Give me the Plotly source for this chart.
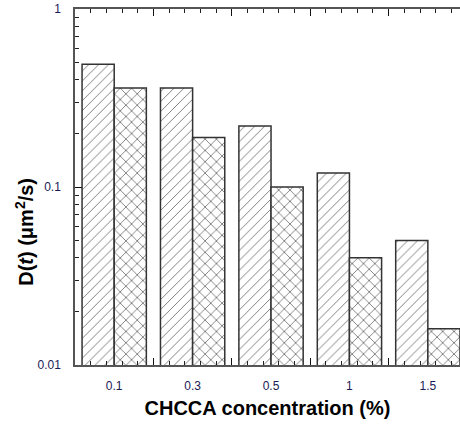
import plotly.graph_objects as go

categories = ["0.1", "0.3", "0.5", "1", "1.5"]
positions = [0.5, 1.5, 2.5, 3.5, 4.5]
series_a = [0.49, 0.36, 0.22, 0.12, 0.05]
series_b = [0.36, 0.19, 0.10, 0.04, 0.016]
y_tick_vals = [0.01, 0.1, 1]
y_tick_text = ["0.01", "0.1", "1"]

bw = 0.41
fig = go.Figure()
fig.add_trace(go.Bar(
    x=positions, y=series_a, width=bw, offset=-bw,
    marker=dict(color="white", line=dict(color="#333333", width=1.5),
                pattern=dict(shape="/", size=7, solidity=0.14, fgcolor="#000000", bgcolor="white")),
    showlegend=False, xaxis="x", yaxis="y"))
fig.add_trace(go.Bar(
    x=positions, y=series_b, width=bw, offset=0,
    marker=dict(color="white", line=dict(color="#333333", width=1.5),
                pattern=dict(shape="x", size=8, solidity=0.22, fgcolor="#000000", bgcolor="white")),
    showlegend=False, xaxis="x", yaxis="y"))
# invisible helper trace so the tick axis (x2) is drawn
fig.add_trace(go.Scatter(x=[0, 4.91], y=[0.01, 1], mode="markers", marker=dict(opacity=0),
                         hoverinfo="skip", showlegend=False, xaxis="x2", yaxis="y"))

minor_y = [m * 10 ** e for e in (-2, -1) for m in range(2, 10)]
tickfont = dict(family="Arial", size=12, color="#1a1a55")

fig.update_layout(
    width=460, height=428,
    margin=dict(l=75, r=0, t=9, b=63),
    plot_bgcolor="white", paper_bgcolor="white",
    barmode="overlay",
    xaxis=dict(range=[0, 4.91], tickvals=positions, ticktext=categories, ticks="",
               showline=False, showgrid=False, zeroline=False, tickfont=tickfont,
               ticklabelstandoff=12,
               title=dict(text="<b>CHCCA concentration (%)</b>",
                          font=dict(family="Arial", size=20, color="black"), standoff=8)),
    xaxis2=dict(overlaying="x", side="bottom", range=[0, 4.91],
                tickvals=[0, 1, 2, 3, 4, 5], showticklabels=False, ticks="inside", ticklen=7,
                tickcolor="#111111", tickwidth=1, showline=True, linecolor="#555555", linewidth=1.5,
                mirror="allticks", showgrid=False, zeroline=False,
                minor=dict(tickvals=[i / 5 for i in range(0, 26) if i % 5], ticks="inside",
                           ticklen=4, tickcolor="#222222")),
    yaxis=dict(type="log", range=[-2, 0], tickvals=y_tick_vals, ticktext=y_tick_text,
               ticks="inside", ticklen=7, tickcolor="#111111", tickwidth=1,
               showline=True, linecolor="#555555", linewidth=1.5, showgrid=False, zeroline=False,
               tickfont=tickfont, ticklabelstandoff=10,
               minor=dict(tickvals=minor_y, ticks="inside", ticklen=4, tickcolor="#222222")),
)
fig.add_annotation(text="<b>D(<i>t</i>) (μm<sup>2</sup>/s)</b>", xref="paper", yref="paper",
                   x=-0.13, y=0.374, textangle=-90, showarrow=False,
                   font=dict(family="Arial", size=20, color="black"), xanchor="center", yanchor="middle")
fig.write_html("out.html")
